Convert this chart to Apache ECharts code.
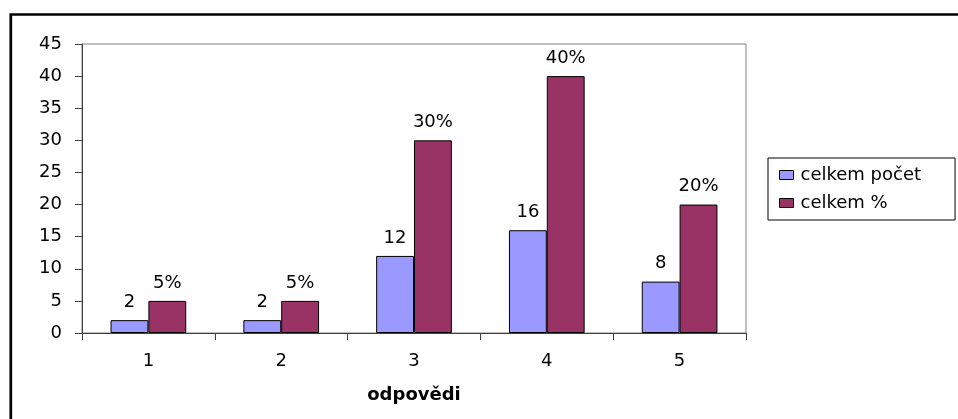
<!DOCTYPE html>
<html>
<head>
<meta charset="utf-8">
<script src="https://cdn.jsdelivr.net/npm/echarts@6/dist/echarts.min.js"></script>
<style>
  html, body { margin: 0; padding: 0; background: #fff; }
  #chart { width: 958px; height: 419px; }
</style>
</head>
<body>
<div id="chart"></div>
<script>
// answers 1–5: total count and share of respondents
const categories = ['1', '2', '3', '4', '5'];
const countValues = [2, 2, 12, 16, 8];
const percentValues = [5, 5, 30, 40, 20];
const seriesNames = ['celkem počet', 'celkem %'];
const axisTitle = 'odpovědi';

const FONT = 'DejaVu Sans';
const SIZE = 18;
const chart = echarts.init(document.getElementById('chart'));

const labelStyle = {
  show: true,
  position: 'top',
  distance: 9,
  color: '#000',
  fontFamily: FONT,
  fontSize: SIZE
};

chart.setOption({
  animation: false,
  backgroundColor: '#fff',
  graphic: [{
    type: 'rect',
    z: 100,
    silent: true,
    shape: { x: 10.8, y: 14.5, width: 2000, height: 2000 },
    style: { fill: 'none', stroke: '#000', lineWidth: 2.7 }
  }],
  grid: {
    left: 82, top: 44, right: 212, bottom: 86,
    show: true, borderColor: '#808080', borderWidth: 1,
    containLabel: false
  },
  legend: {
    orient: 'vertical',
    left: 768, top: 158,
    padding: [8, 34, 8, 11],
    itemGap: 10,
    itemWidth: 14, itemHeight: 9,
    borderColor: '#000', borderWidth: 1,
    icon: 'rect',
    itemStyle: { borderColor: '#000', borderWidth: 1 },
    textStyle: { color: '#000', fontFamily: FONT, fontSize: SIZE, padding: [0, 0, 0, 2] },
    data: seriesNames
  },
  xAxis: {
    type: 'category',
    data: categories,
    name: axisTitle,
    nameLocation: 'middle',
    nameGap: 53,
    nameTextStyle: { color: '#000', fontFamily: FONT, fontSize: SIZE, fontWeight: 'bold' },
    axisLine: { lineStyle: { color: '#404040', width: 1 } },
    axisTick: { show: true, length: 7, lineStyle: { color: '#404040' } },
    axisLabel: { color: '#000', fontFamily: FONT, fontSize: SIZE, margin: 19 },
    splitLine: { show: false }
  },
  yAxis: {
    type: 'value',
    min: 0, max: 45, interval: 5,
    axisLine: { show: true, lineStyle: { color: '#404040', width: 1 } },
    axisTick: { show: true, length: 7, lineStyle: { color: '#404040' } },
    axisLabel: { color: '#000', fontFamily: FONT, fontSize: SIZE, margin: 20 },
    splitLine: { show: false }
  },
  series: [{
    name: seriesNames[0],
    type: 'bar',
    data: countValues,
    barGap: 0,
    barCategoryGap: '43%',
    itemStyle: { color: '#9999FF', borderColor: '#000', borderWidth: 1 },
    label: labelStyle
  }, {
    name: seriesNames[1],
    type: 'bar',
    data: percentValues,
    barGap: 0,
    barCategoryGap: '43%',
    itemStyle: { color: '#993366', borderColor: '#000', borderWidth: 1 },
    label: Object.assign({}, labelStyle, { formatter: p => p.value + '%' })
  }]
});
</script>
</body>
</html>
